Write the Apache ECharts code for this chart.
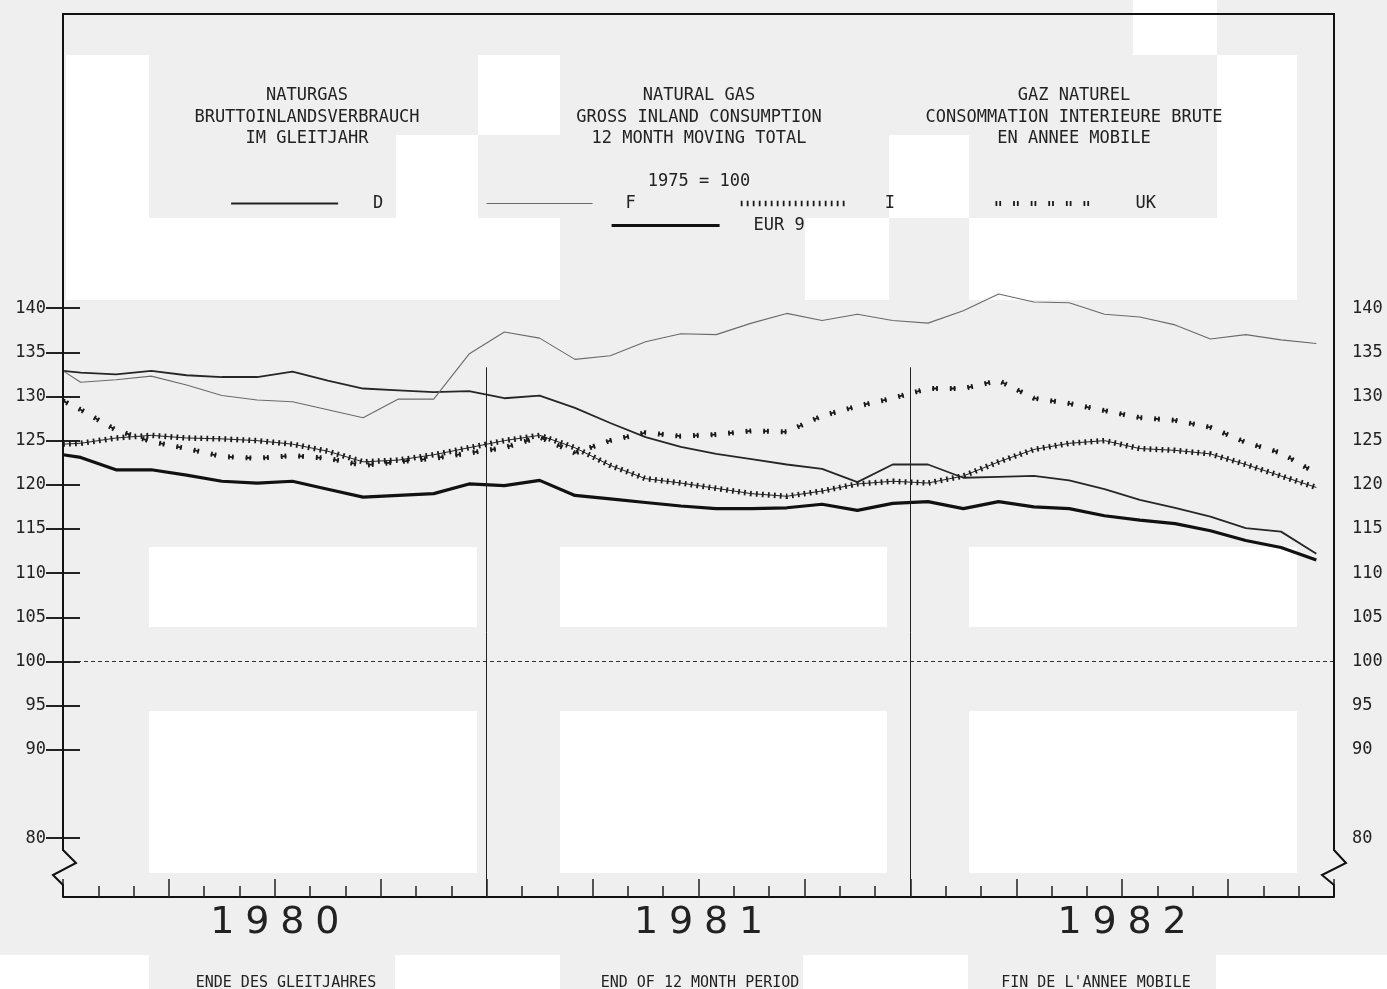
<!DOCTYPE html>
<html>
<head>
<meta charset="utf-8">
<script src="https://cdn.jsdelivr.net/npm/echarts@6/dist/echarts.min.js"></script>
<style>
html,body{margin:0;padding:0;background:#efefef;}
#chart{width:1387px;height:989px;}
</style>
</head>
<body>
<div id="chart"></div>
<script>
// ---- data (index 1975 = 100), 12 month moving totals ----
// first value = start of Jan 1980, then one value per month Jan 1980 .. Dec 1982
const seriesD = [132.9,132.7,132.5,132.9,132.4,132.2,132.2,132.8,131.8,130.9,130.7,130.5,130.6,129.8,130.1,128.7,127.0,125.4,124.3,123.5,122.9,122.3,121.8,120.3,122.3,122.3,120.8,120.9,121.0,120.5,119.5,118.3,117.4,116.4,115.1,114.7,112.2];
const seriesF = [132.9,131.6,131.9,132.3,131.3,130.1,129.6,129.4,128.5,127.6,129.7,129.7,134.8,137.3,136.6,134.2,134.6,136.2,137.1,137.0,138.3,139.4,138.6,139.3,138.6,138.3,139.7,141.6,140.7,140.6,139.3,139.0,138.1,136.5,137.0,136.4,136.0];
const seriesI = [124.6,124.7,125.3,125.6,125.3,125.2,125.0,124.6,123.8,122.6,122.8,123.4,124.2,125.0,125.6,124.2,122.2,120.7,120.2,119.6,119.0,118.7,119.3,120.1,120.4,120.2,121.0,122.6,124.0,124.7,125.0,124.1,123.9,123.5,122.3,121.0,119.7];
const seriesUK = [129.5,128.5,126.2,124.9,124.1,123.2,123.0,123.3,123.0,122.2,122.6,123.0,123.6,124.2,125.4,123.6,125.0,125.9,125.5,125.7,126.1,126.0,127.8,128.9,129.8,130.9,130.9,131.8,129.8,129.2,128.4,127.6,127.3,126.5,124.8,123.6,121.3];
const seriesEUR9 = [123.4,123.1,121.7,121.7,121.1,120.4,120.2,120.4,119.5,118.6,118.8,119.0,120.1,119.9,120.5,118.8,118.4,118.0,117.6,117.3,117.3,117.4,117.8,117.1,117.9,118.1,117.3,118.1,117.5,117.3,116.5,116.0,115.6,114.8,113.7,112.9,111.5];

const yearLabels = ['1980','1981','1982'];
const yTickValues = [80,90,95,100,105,110,115,120,125,130,135,140];
const baseValue = 100;
const titleDE = ['NATURGAS','BRUTTOINLANDSVERBRAUCH','IM GLEITJAHR'];
const titleEN = ['NATURAL GAS','GROSS INLAND CONSUMPTION','12 MONTH MOVING TOTAL'];
const titleFR = ['GAZ NATUREL','CONSOMMATION INTERIEURE BRUTE','EN ANNEE MOBILE'];
const baseNote = '1975 = 100';
const footDE = 'ENDE DES GLEITJAHRES';
const footEN = 'END OF 12 MONTH PERIOD';
const footFR = "FIN DE L'ANNEE MOBILE";

// ---- layout ----
const MONO = '"DejaVu Sans Mono", "Liberation Mono", monospace';
const TXT = '#222';
const yMin = 73.345, yMax = 173.29;
const monthsTotal = 36;
const sepTop = 133.3;

const styleD = {color: '#262626', width: 1.8};
const styleF = {color: '#6a6a6a', width: 1.1};
const styleIBars = {color: '#1a1a1a', width: 5.5, type: [1.8, 4.2]};
const styleILine = {color: '#222', width: 1};
const styleUKBars = {color: '#1a1a1a', width: 5, type: [1.8, 2.0, 1.8, 12.0]};
const styleUKLine = {color: '#1a1a1a', width: 1.8, type: [5.6, 12.0]};
const styleEUR = {color: '#111', width: 3.2};

const toPoints = arr => arr.map((v, i) => [i === 0 ? 0 : i - 0.5, v]);

const chart = echarts.init(document.getElementById('chart'), null, {renderer: 'canvas'});

const whiteBlocks = [
  [66,55,83,245],[149,218,411,82],[478,55,82,80],[396,135,82,83],
  [805,218,84,82],[889,135,80,83],[969,218,248,82],[1133,0,84,55],[1217,55,80,245],
  [149,547,328,80],[560,547,327,80],[969,547,328,80],
  [149,711,328,162],[560,711,327,162],[969,711,328,162],
  [0,955,149,34],[395,955,165,34],[803,955,165,34],[1216,955,171,34]
];

function titleBlock(lines, x, top, size) {
  return {
    text: Array.isArray(lines) ? lines.join('\n') : lines,
    left: x, top: top, textAlign: 'center', padding: 0,
    textStyle: {fontFamily: MONO, fontSize: size, fontWeight: 'normal', color: TXT, lineHeight: 21.5}
  };
}

function legendBlock(name, left, top, width, pad, ls) {
  return {
    data: [name], left: left, top: top, padding: 0,
    itemWidth: width, itemHeight: 14,
    itemStyle: {opacity: 0},
    lineStyle: {width: ls.width, type: ls.type || 'solid', color: ls.color},
    textStyle: {fontFamily: MONO, fontSize: 17, color: TXT, padding: [0,0,0,pad]}
  };
}

const option = {
  backgroundColor: '#efefef',
  animation: false,
  title: [
    titleBlock(titleDE, 307, 85, 17),
    titleBlock(titleEN, 699, 85, 17),
    titleBlock(titleFR, 1074, 85, 17),
    titleBlock(baseNote, 699, 171, 17),
    titleBlock(footDE, 286, 972, 15),
    titleBlock(footEN, 700, 972, 15),
    titleBlock(footFR, 1096, 972, 15)
  ],
  legend: [
    legendBlock('D', 230, 195, 107, 30, {color: '#222', width: 2.2}),
    legendBlock('F', 486, 195, 106, 28, styleF),
    legendBlock('I', 738, 195, 105, 34, styleIBars),
    legendBlock('UK', 993, 195, 97, 38, styleUKBars),
    legendBlock('EUR 9', 610, 217, 108, 29, styleEUR)
  ],
  grid: {left: 63, right: 53, top: 14, bottom: 92, show: false},
  xAxis: [
    {
      type: 'value', min: 0, max: monthsTotal, interval: 1, position: 'bottom',
      axisLine: {show: true, onZero: false, lineStyle: {color: '#111', width: 2}},
      axisTick: {show: true, inside: true, length: 11, lineStyle: {color: '#222', width: 1.5}},
      axisLabel: {show: false},
      splitLine: {show: false}
    },
    {
      type: 'value', min: 0, max: monthsTotal, interval: 3, position: 'bottom',
      axisLine: {show: false, onZero: false},
      axisTick: {show: true, inside: true, length: 18, lineStyle: {color: '#222', width: 1.5}},
      axisLabel: {
        show: true, margin: 6,
        customValues: [6, 18, 30],
        formatter: v => yearLabels[Math.floor(v / 12)].split('').map(c => '{d|' + c + '}').join(''),
        rich: {d: {fontFamily: '"DejaVu Sans", sans-serif', fontSize: 38, width: 35, align: 'center', color: TXT, lineHeight: 40}}
      },
      splitLine: {show: false}
    }
  ],
  yAxis: [
    {
      type: 'value', min: yMin, max: yMax, position: 'left',
      axisLine: {show: false},
      axisTick: {show: true, inside: true, length: 17, customValues: yTickValues, lineStyle: {color: '#222', width: 2}},
      axisLabel: {show: true, customValues: yTickValues, margin: 17, fontFamily: MONO, fontSize: 17, color: TXT},
      splitLine: {show: false}
    },
    {
      type: 'value', min: yMin, max: yMax, position: 'right',
      axisLine: {show: false},
      axisTick: {show: true, inside: true, length: 17, customValues: yTickValues, lineStyle: {color: '#222', width: 2}},
      axisLabel: {show: true, customValues: yTickValues, margin: 18, fontFamily: MONO, fontSize: 17, color: TXT},
      splitLine: {show: false}
    }
  ],
  series: [
    {name: 'D', type: 'line', data: toPoints(seriesD), symbol: 'none', z: 3, lineStyle: styleD},
    {name: 'F', type: 'line', data: toPoints(seriesF), symbol: 'none', z: 3, lineStyle: styleF},
    {name: 'I', type: 'line', data: toPoints(seriesI), symbol: 'none', z: 3, lineStyle: styleIBars},
    {name: 'I', type: 'line', data: toPoints(seriesI), symbol: 'none', z: 3, lineStyle: styleILine},
    {name: 'UK', type: 'line', data: toPoints(seriesUK), symbol: 'none', z: 3, lineStyle: styleUKBars},
    {name: 'UK', type: 'line', data: toPoints(seriesUK), symbol: 'none', z: 3, lineStyle: styleUKLine},
    {name: 'EUR 9', type: 'line', data: toPoints(seriesEUR9), symbol: 'none', z: 4, lineStyle: styleEUR,
     markLine: {
       silent: true, symbol: ['none', 'none'], label: {show: false},
       lineStyle: {type: 'solid', color: '#222', width: 1},
       data: [
         {yAxis: baseValue, lineStyle: {type: [4, 3], color: '#333', width: 1}},
         [{coord: [12, yMin]}, {coord: [12, sepTop]}],
         [{coord: [24, yMin]}, {coord: [24, sepTop]}]
       ]
     }}
  ],
  graphic: {
    elements: whiteBlocks.map(b => ({
      type: 'rect', z: -10, silent: true,
      shape: {x: b[0], y: b[1], width: b[2], height: b[3]},
      style: {fill: '#ffffff'}
    })).concat([{
      type: 'polyline', z: 20, silent: true,
      shape: {points: [[63,897],[63,885],[53,875],[76,863],[63,850],[63,14],[1334,14],[1334,850],[1346,863],[1322,875],[1334,885],[1334,897]]},
      style: {stroke: '#111', lineWidth: 2, fill: null}
    }])
  }
};
chart.setOption(option);
</script>
</body>
</html>
